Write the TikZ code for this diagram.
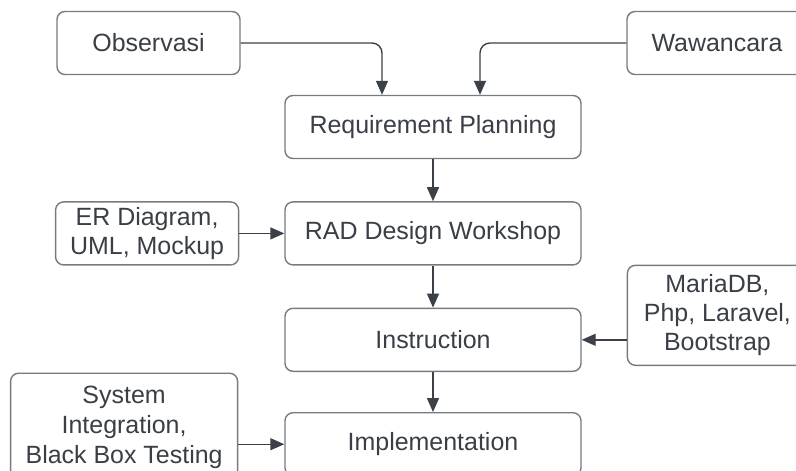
\documentclass[tikz,border=0pt]{standalone}
\usepackage{fontspec}
\setmainfont{Liberation Sans}
\usetikzlibrary{arrows.meta, positioning}
\definecolor{boxline}{HTML}{767B82}
\definecolor{inktext}{HTML}{3A3F47}
\definecolor{arrowink}{HTML}{3C4149}
\tikzset{
    basic/.style={draw=boxline, line width=0.8pt, rectangle, rounded corners=1.6mm, align=center, text=inktext, fill=white, font=\fontsize{14.2pt}{16.5pt}\selectfont, inner sep=2pt},
    stage/.style={basic, minimum width=5.92cm, minimum height=1.26cm},
    source/.style={basic, minimum width=3.66cm, minimum height=1.26cm},
    arrow/.style={-{Triangle[length=0.28cm, width=0.24cm]}, line width=0.8pt, color=arrowink}
}

\begin{document}
\begin{tikzpicture}[
    node distance=0.84cm and 0.9cm
]
    % frame of the page, everything beyond it is cut
    \path[use as bounding box, clip] (0,0) rectangle (15.92,-9.4);

    % ============================================================
    % Main RAD stages (top to bottom)
    % ============================================================
    \node[stage] (req) at (8.66,-2.54) {Requirement Planning};
    \node[stage, below=of req] (rad) {RAD Design Workshop};
    \node[stage, below=of rad] (instr) {Instruction};
    \node[stage, below=0.8cm of instr] (impl) {Implementation};

    % ============================================================
    % Inputs to each stage
    % ============================================================
    \node[source] (obs) at (2.97,-0.86) {Observasi};
    \node[source, minimum width=3.6cm] (waw) at (14.34,-0.86) {Wawancara};
    \node[source, left=of rad] (erd) {ER Diagram,\\UML, Mockup};
    \node[source, right=of instr, yshift=0.49cm, minimum width=3.6cm, minimum height=2cm] (tools) {MariaDB,\\Php, Laravel,\\Bootstrap};
    \node[source, left=0.92cm of impl, yshift=0.34cm, minimum width=4.54cm, minimum height=2.16cm,
          font=\fontsize{14.2pt}{17.2pt}\selectfont] (test) {System\\Integration,\\Black Box Testing};

    % Arrows into requirement planning
    \draw[arrow, rounded corners=2mm] (obs.east) -| ([xshift=-1.02cm]req.north);
    \draw[arrow, rounded corners=2mm] (waw.west) -| ([xshift=0.94cm]req.north);

    % Stage flow
    \draw[arrow] (req) -- (rad);
    \draw[arrow] (rad) -- (instr);
    \draw[arrow] (instr) -- (impl);

    % Side inputs
    \draw[arrow] (erd) -- (rad);
    \draw[arrow] (instr.east -| tools.west) -- (instr.east);
    \draw[arrow] (impl.west -| test.east) -- (impl.west);

\end{tikzpicture}
\end{document}
